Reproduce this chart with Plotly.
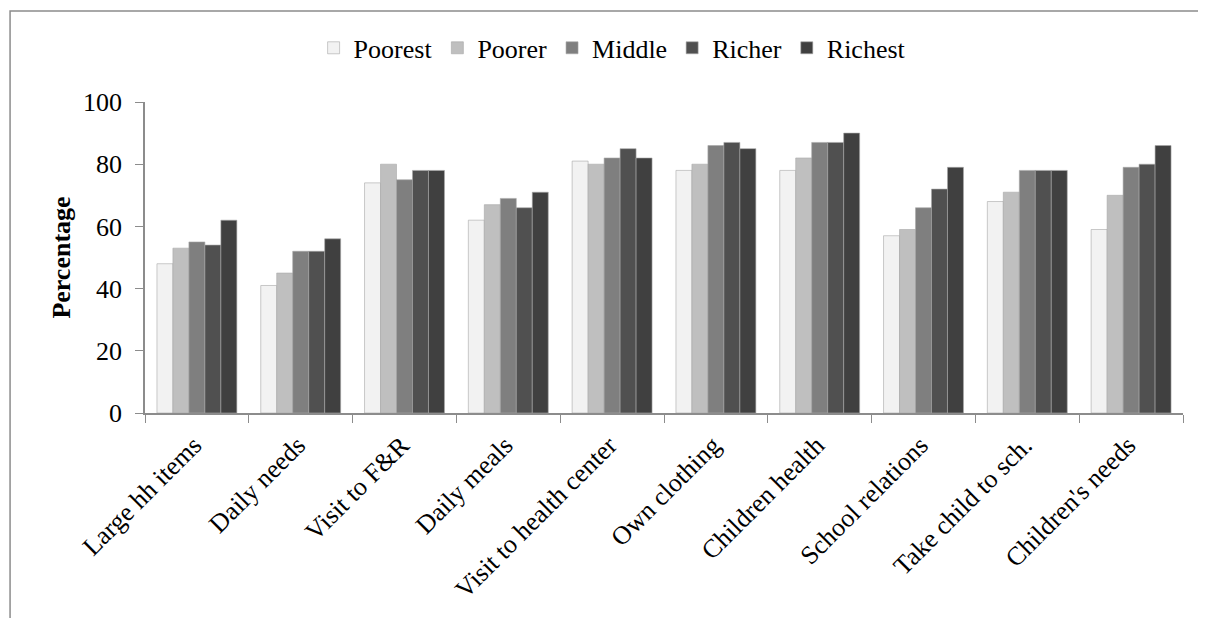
import plotly.graph_objects as go

categories = ["Large hh items", "Daily needs", "Visit to F&R", "Daily meals",
              "Visit to health center", "Own clothing", "Children health",
              "School relations", "Take child to sch.", "Children's needs"]
poorest = [48, 41, 74, 62, 81, 78, 78, 57, 68, 59]
poorer = [53, 45, 80, 67, 80, 80, 82, 59, 71, 70]
middle = [55, 52, 75, 69, 82, 86, 87, 66, 78, 79]
richer = [54, 52, 78, 66, 85, 87, 87, 72, 78, 80]
richest = [62, 56, 78, 71, 82, 85, 90, 79, 78, 86]
series_names = ["Poorest", "Poorer", "Middle", "Richer", "Richest"]
colors = ["#f2f2f2", "#bfbfbf", "#7f7f7f", "#505050", "#404040"]
y_ticks = [0, 20, 40, 60, 80, 100]

fig = go.Figure()
for name, vals, c in zip(series_names, [poorest, poorer, middle, richer, richest], colors):
    fig.add_trace(go.Bar(name=name, x=categories, y=vals, marker_color=c,
                         marker_line=dict(color="#a8a8a8", width=0.6)))

font = "Liberation Serif, Times New Roman, serif"
# page body has an 8px default margin, so the figure is 8px smaller than the window
fig.update_layout(
    barmode="group", bargap=0.23, bargroupgap=0,
    width=1198, height=610,
    margin=dict(l=137, r=23, t=94, b=205, autoexpand=False),
    plot_bgcolor="white", paper_bgcolor="white",
    font=dict(family=font, size=26, color="black"),
    legend=dict(orientation="h", x=0.450, xanchor="center", y=1.174, yanchor="middle",
                font=dict(size=26), itemwidth=30, tracegroupgap=0,
                bgcolor="rgba(0,0,0,0)"),
    showlegend=True,
)
fig.update_yaxes(range=[0, 100], tickvals=y_ticks, showgrid=False, automargin=False,
                 showline=True, linecolor="#8c8c8c", linewidth=1.5,
                 ticks="outside", ticklen=8, tickcolor="#8c8c8c",
                 tickfont=dict(size=26), ticklabelstandoff=8,
                 title=dict(text="<b>Percentage</b>", font=dict(size=26), standoff=5),
                 zeroline=False)
fig.update_xaxes(showline=True, linecolor="#8c8c8c", linewidth=1.5, automargin=False,
                 ticks="outside", ticklen=8, tickcolor="#8c8c8c",
                 tickson="boundaries", tickangle=-45, tickfont=dict(size=26),
                 ticklabelshift=-3, ticklabelstandoff=5)
fig.add_shape(type="rect", xref="paper", yref="paper",
              x0=-0.130, x1=1.2, y0=-1.0, y1=1.2926,
              line=dict(color="#8c8c8c", width=1.5), layer="below")
fig.write_html("out.html")
